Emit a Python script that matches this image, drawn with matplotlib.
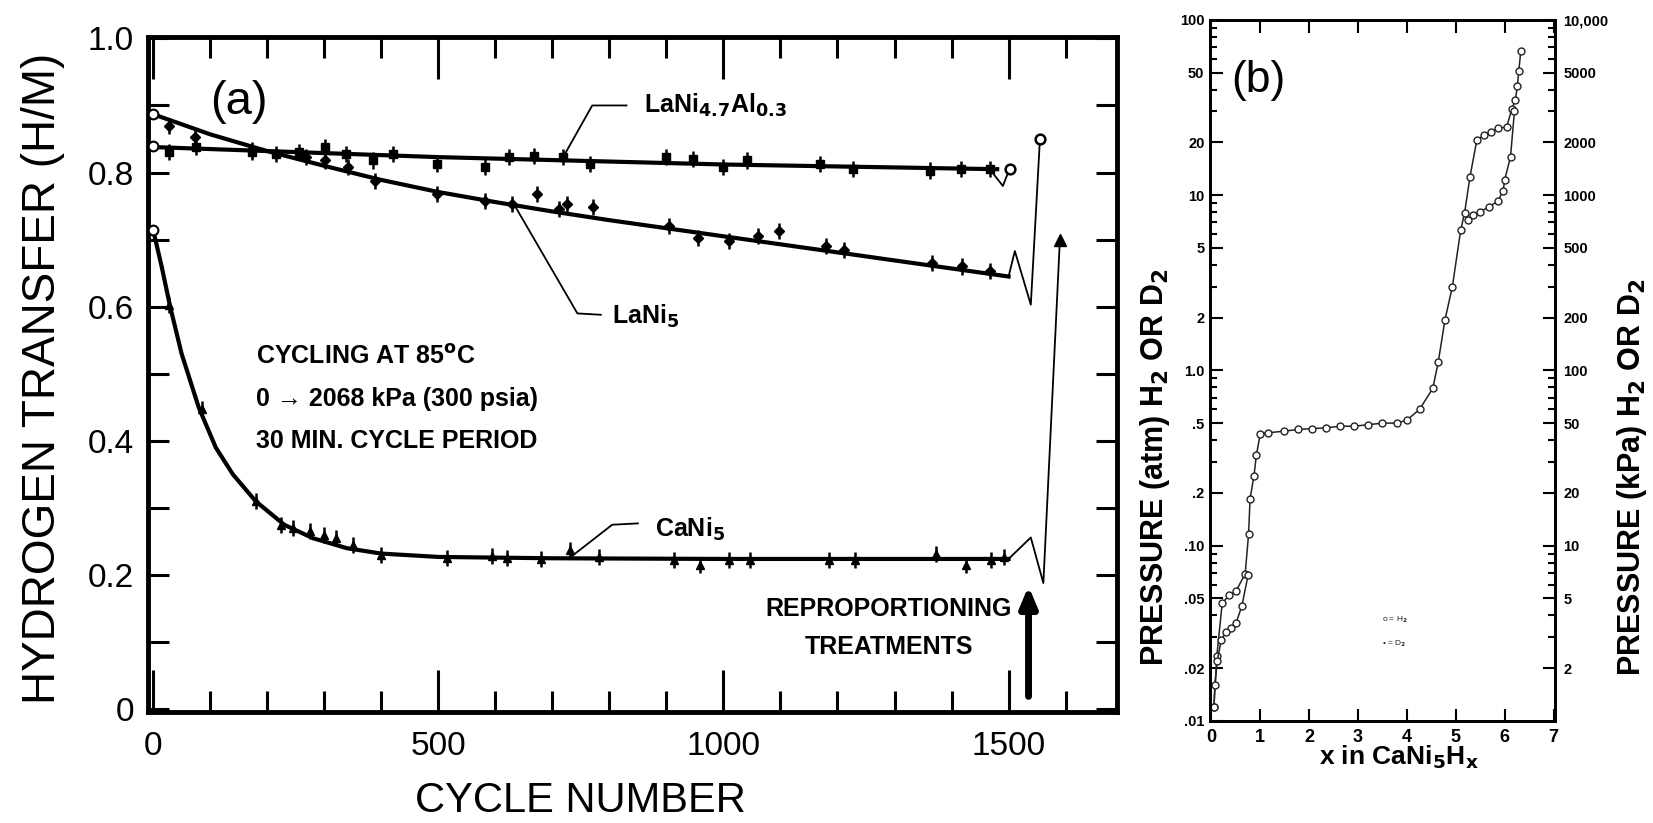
import matplotlib.pyplot as plt
from matplotlib.ticker import FixedLocator, FixedFormatter, MultipleLocator, NullFormatter

plt.rcParams['font.family'] = ['Liberation Sans', 'DejaVu Sans']
plt.rcParams['mathtext.fontset'] = 'custom'
plt.rcParams['mathtext.rm'] = 'Liberation Sans Narrow:bold'
plt.rcParams['mathtext.it'] = 'Liberation Sans Narrow:bold'
plt.rcParams['mathtext.bf'] = 'Liberation Sans Narrow:bold'
NARROW = ['Liberation Sans Narrow', 'Liberation Sans', 'DejaVu Sans']

# ---- panel (a): hydrogen transfer vs cycle number ----
lani47_x = [28, 76, 174, 215, 256, 301, 339, 386, 421, 497, 582, 624, 668, 719, 766,
            899, 946, 1000, 1041, 1170, 1227, 1362, 1416, 1467]
lani47_y = [0.830, 0.838, 0.830, 0.828, 0.830, 0.838, 0.828, 0.818, 0.828, 0.813, 0.808,
            0.823, 0.825, 0.823, 0.813, 0.823, 0.820, 0.808, 0.818, 0.813, 0.805, 0.803,
            0.805, 0.805]
lani47_fit_x = [0, 500, 1000, 1480]
lani47_fit_y = [0.838, 0.823, 0.812, 0.805]
lani47_tr_x = [1467, 1490, 1502]
lani47_tr_y = [0.805, 0.780, 0.806]

lani5_x = [28, 73, 174, 269, 301, 342, 389, 497, 582, 630, 674, 712, 725, 772, 905, 956,
           1009, 1060, 1098, 1180, 1211, 1366, 1419, 1467]
lani5_y = [0.870, 0.853, 0.833, 0.823, 0.818, 0.808, 0.788, 0.768, 0.758, 0.753, 0.768,
           0.745, 0.753, 0.748, 0.720, 0.703, 0.698, 0.705, 0.713, 0.690, 0.685, 0.665,
           0.660, 0.653]
lani5_fit_x = [0, 100, 200, 300, 400, 500, 600, 700, 800, 900, 1000, 1100, 1200, 1300, 1400, 1500]
lani5_fit_y = [0.887, 0.857, 0.832, 0.810, 0.789, 0.771, 0.756, 0.742, 0.729, 0.717, 0.705,
               0.693, 0.681, 0.669, 0.657, 0.645]
lani5_tr_x = [1500, 1511, 1539, 1555]
lani5_tr_y = [0.645, 0.683, 0.603, 0.850]

cani5_x = [28, 85, 180, 225, 245, 275, 300, 320, 350, 400, 515, 595, 620, 680, 731, 782,
           914, 959, 1009, 1047, 1186, 1230, 1372, 1426, 1470, 1492]
cani5_y = [0.603, 0.448, 0.310, 0.275, 0.270, 0.265, 0.260, 0.255, 0.245, 0.230, 0.225,
           0.228, 0.225, 0.224, 0.237, 0.227, 0.222, 0.215, 0.222, 0.222, 0.222, 0.222,
           0.232, 0.215, 0.222, 0.227]
cani5_fit_x = [0, 15, 30, 50, 80, 110, 140, 180, 230, 280, 340, 400, 500, 700, 1000, 1300, 1500]
cani5_fit_y = [0.715, 0.660, 0.600, 0.530, 0.450, 0.390, 0.350, 0.310, 0.275, 0.255, 0.240,
               0.232, 0.227, 0.225, 0.224, 0.224, 0.224]
cani5_tr_x = [1500, 1539, 1561, 1590]
cani5_tr_y = [0.224, 0.256, 0.188, 0.700]

start_y = [0.840, 0.887, 0.715]   # open symbols at cycle 0

# ---- panel (b): CaNi5 isotherm ----
abs_x = [0.05, 0.11, 0.22, 0.36, 0.50, 0.69, 0.76, 0.79, 0.87, 0.92, 1.00, 1.15, 1.48, 1.77,
         2.06, 2.34, 2.63, 2.92, 3.21, 3.50, 3.79, 4.00, 4.26, 4.53, 4.64, 4.78, 4.93, 5.10,
         5.18, 5.29, 5.43, 5.58, 5.72, 5.86, 6.04, 6.15, 6.22, 6.26, 6.29, 6.33]
abs_p = [0.012, 0.0235, 0.047, 0.052, 0.055, 0.069, 0.117, 0.185, 0.25, 0.33, 0.435, 0.44,
         0.45, 0.46, 0.465, 0.47, 0.48, 0.48, 0.49, 0.50, 0.50, 0.52, 0.60, 0.79, 1.11, 1.95,
         3.0, 6.3, 7.9, 12.7, 20.5, 22, 23, 24, 24.5, 31, 35, 42, 51, 66]
des_hi_x = [6.20, 6.12, 6.00, 5.97, 5.86, 5.68, 5.50, 5.36, 5.25]
des_hi_p = [30, 16.5, 12.2, 10.6, 9.2, 8.6, 8.0, 7.7, 7.2]
des_lo_x = [0.75, 0.62, 0.50, 0.40, 0.29, 0.20, 0.12, 0.07, 0.05]
des_lo_p = [0.068, 0.045, 0.036, 0.034, 0.032, 0.029, 0.022, 0.016, 0.012]

atm_ticks = [0.01, 0.02, 0.05, 0.1, 0.2, 0.5, 1, 2, 5, 10, 20, 50, 100]
atm_labels = ['.01', '.02', '.05', '.10', '.2', '.5', '1.0', '2', '5', '10', '20', '50', '100']
kpa_ticks = [2, 5, 10, 20, 50, 100, 200, 500, 1000, 2000, 5000, 10000]
kpa_labels = ['2', '5', '10', '20', '50', '100', '200', '500', '1000', '2000', '5000', '10,000']

fig = plt.figure(figsize=(16.53, 8.23), dpi=100)

ax = fig.add_axes([0.0895, 0.135, 0.5862, 0.820])
k = 'black'
ax.plot(lani47_fit_x, lani47_fit_y, color=k, lw=3)
ax.plot(lani5_fit_x, lani5_fit_y, color=k, lw=3)
ax.plot(cani5_fit_x, cani5_fit_y, color=k, lw=3)
ax.errorbar(lani47_x, lani47_y, yerr=0.012, fmt='s', ms=6, color=k, elinewidth=1.8, capsize=0)
ax.errorbar(lani5_x, lani5_y, yerr=0.012, fmt='D', ms=5, color=k, elinewidth=1.8, capsize=0)
ax.errorbar(cani5_x, cani5_y, yerr=0.012, fmt='^', ms=6, color=k, elinewidth=1.8, capsize=0)
ax.plot([0, 0, 0], start_y, 'o', ms=7, mfc='white', mec=k, mew=1.5, clip_on=False, zorder=5)

ax.plot(lani47_tr_x, lani47_tr_y, color=k, lw=1.3)
ax.plot(lani47_tr_x[-1:], lani47_tr_y[-1:], 'o', ms=7, mfc='white', mec=k, mew=1.8)
ax.plot(lani5_tr_x, lani5_tr_y, color=k, lw=1.3)
ax.plot(lani5_tr_x[-1:], lani5_tr_y[-1:], 'o', ms=7, mfc='white', mec=k, mew=1.8)
ax.plot(cani5_tr_x, cani5_tr_y, color=k, lw=1.3)
ax.plot(cani5_tr_x[-1:], cani5_tr_y[-1:], '^', ms=9, color=k)

ax.set_xlim(-9, 1690)
ax.set_ylim(-0.004, 1.002)
ax.xaxis.set_major_locator(FixedLocator([0, 500, 1000, 1500]))
ax.xaxis.set_minor_locator(MultipleLocator(100))
ax.yaxis.set_major_locator(FixedLocator([0, 0.2, 0.4, 0.6, 0.8, 1.0]))
ax.yaxis.set_major_formatter(FixedFormatter(['0', '0.2', '0.4', '0.6', '0.8', '1.0']))
ax.yaxis.set_minor_locator(MultipleLocator(0.1))
ax.tick_params(which='both', direction='in', top=True, right=True, width=2.2, labelsize=24,
               colors=k)
ax.tick_params(axis='x', which='major', length=30, pad=14)
ax.tick_params(axis='x', which='minor', length=15)
ax.tick_params(axis='y', which='both', length=15, pad=10)
for lab in ax.get_xticklabels() + ax.get_yticklabels():
    lab.set_family(NARROW)
for s in ax.spines.values():
    s.set_linewidth(3.5)

fig.text(0.351, 0.027, 'CYCLE NUMBER', fontsize=30, ha='center', va='center')
fig.text(0.026, 0.540, 'HYDROGEN TRANSFER (H/M)', fontsize=33, rotation=90,
         ha='center', va='center')

ax.text(150, 0.905, '(a)', fontsize=34, ha='center', va='center')
bold = dict(family=NARROW, fontweight='bold', fontsize=18, color=k)
ax.text(180, 0.525, 'CYCLING AT 85$^{o}$C', va='center', **bold)
ax.text(180, 0.462, '0 \u2192 2068 kPa (300 psia)', va='center', **bold)
ax.text(180, 0.400, '30 MIN. CYCLE PERIOD', va='center', **bold)
ax.text(860, 0.900, r'LaNi$_{4.7}$Al$_{0.3}$', va='center', **bold)
ax.text(805, 0.585, r'LaNi$_5$', va='center', **bold)
ax.text(880, 0.268, r'CaNi$_5$', va='center', **bold)
ax.text(1290, 0.150, 'REPROPORTIONING', ha='center', va='center', **bold)
ax.text(1290, 0.093, 'TREATMENTS', ha='center', va='center', **bold)

# leader lines for the alloy labels
ax.plot([719, 770, 830], [0.823, 0.900, 0.900], color=k, lw=1.3)
ax.plot([636, 744, 785], [0.748, 0.590, 0.588], color=k, lw=1.3)
ax.plot([731, 805, 850], [0.226, 0.275, 0.277], color=k, lw=1.3)

ax.annotate('', xy=(1535, 0.188), xytext=(1535, 0.015),
            arrowprops=dict(arrowstyle='-|>,head_width=0.5,head_length=1.2', lw=5, color=k))

# ---- panel (b) ----
bx = fig.add_axes([0.732, 0.124, 0.2087, 0.852])
g = '#222222'
bx.plot(abs_x, abs_p, '-o', color=g, lw=1.1, ms=5, mfc='white', mew=1.0)
bx.plot(des_hi_x, des_hi_p, '-o', color=g, lw=1.1, ms=5, mfc='white', mew=1.0)
bx.plot(des_lo_x, des_lo_p, '-o', color=g, lw=1.1, ms=5, mfc='white', mew=1.0)
bx.set_yscale('log')
bx.set_ylim(0.01, 100)
bx.set_xlim(-0.03, 7.03)
bx.xaxis.set_major_locator(FixedLocator(range(8)))
bx.yaxis.set_major_locator(FixedLocator(atm_ticks))
bx.yaxis.set_major_formatter(FixedFormatter(atm_labels))
bx.yaxis.set_minor_locator(FixedLocator([m * 10.0 ** e for e in range(-2, 2)
                                         for m in (3, 4, 6, 7, 8, 9)]))
bx.yaxis.set_minor_formatter(NullFormatter())
bx.tick_params(which='both', direction='in', top=True, width=1.5, colors=k)
bx.tick_params(which='major', length=9)
bx.tick_params(which='minor', length=5)
bx.tick_params(axis='y', labelsize=10.5, pad=4)
bx.tick_params(axis='x', labelsize=13, pad=6)
for lab in bx.get_xticklabels() + bx.get_yticklabels():
    lab.set_fontweight('bold')
    lab.set_family(NARROW)
for s in bx.spines.values():
    s.set_linewidth(2)

rx = bx.twinx()
rx.set_yscale('log')
rx.set_ylim(1, 10000)
rx.yaxis.set_major_locator(FixedLocator(kpa_ticks))
rx.yaxis.set_major_formatter(FixedFormatter(kpa_labels))
rx.yaxis.set_minor_locator(FixedLocator([m * 10.0 ** e for e in range(0, 4)
                                         for m in (3, 4, 6, 7, 8, 9)]))
rx.yaxis.set_minor_formatter(NullFormatter())
rx.tick_params(which='both', direction='in', width=1.5, labelsize=10.5, pad=6)
rx.tick_params(which='major', length=9)
rx.tick_params(which='minor', length=5)
for lab in rx.get_yticklabels():
    lab.set_fontweight('bold')
    lab.set_family(NARROW)
for s in rx.spines.values():
    s.set_linewidth(2)

bx.text(0.95, 45, '(b)', fontsize=32, ha='center', va='center')
bx.text(3.5, 0.037, 'o = H$_2$', fontsize=6, color=g)
bx.text(3.5, 0.027, '\u2022 = D$_2$', fontsize=6, color=g)
fig.text(0.846, 0.080, r'x in CaNi$_5$H$_\mathrm{x}$', fontsize=19, fontweight='bold',
         ha='center', va='center')
fig.text(0.699, 0.432, r'PRESSURE (atm) H$_2$ OR D$_2$', fontsize=22, fontweight='bold',
         rotation=90, ha='center', va='center')
fig.text(0.987, 0.420, r'PRESSURE (kPa) H$_2$ OR D$_2$', fontsize=22, fontweight='bold',
         rotation=90, ha='center', va='center')

fig.savefig('out.png', dpi=100)
